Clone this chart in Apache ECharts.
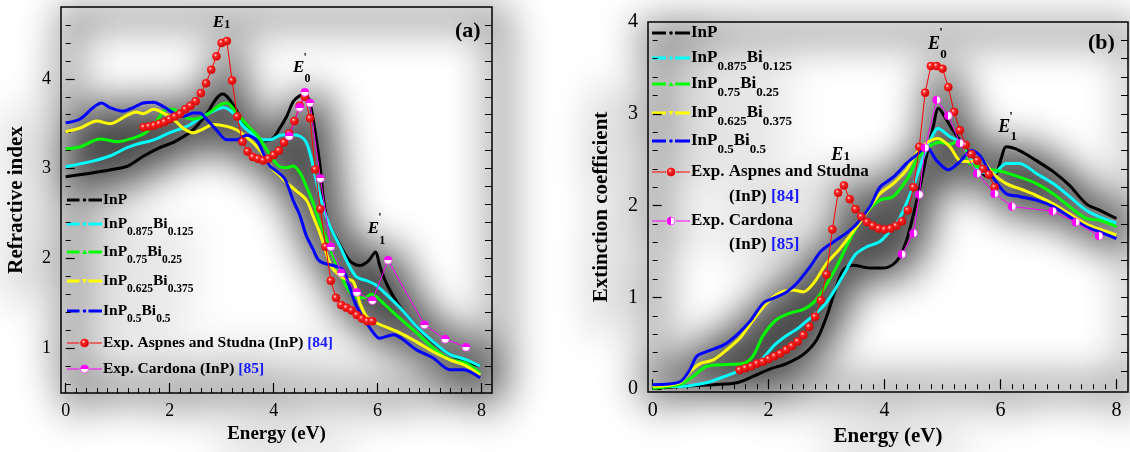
<!DOCTYPE html>
<html>
<head>
<meta charset="utf-8">
<script src="https://cdn.jsdelivr.net/npm/echarts@6/dist/echarts.min.js"></script>
<style>
  html, body { margin: 0; padding: 0; background: #ffffff; }
  #wrap { position: relative; width: 1130px; height: 452px; overflow: hidden; }
  #haze, #chart { position: absolute; left: 0; top: 0; width: 1130px; height: 452px; }
  /* soft grey drop-haze behind the drawing */
  #haze { filter: blur(20px); opacity: 0.72; transform: translate(7px, 10px); }
</style>
</head>
<body>
<div id="wrap">
  <div id="haze"></div>
  <div id="chart"></div>
</div>
<script>
const FONT = "'Liberation Serif','Times New Roman',Times,serif";

// ---------- (a) refractive index n(E) ----------
const refrInP = [[0,2.91],[0.5,2.95],[1.0,3.0],[1.2,3.03],[1.5,3.14],[1.8,3.23],[2.1,3.30],[2.45,3.43],[2.7,3.60],[2.9,3.78],[3.02,3.83],[3.15,3.77],[3.35,3.58],[3.55,3.41],[3.8,3.31],[3.97,3.33],[4.12,3.45],[4.25,3.58],[4.38,3.75],[4.5,3.81],[4.58,3.82],[4.68,3.77],[4.75,3.58],[4.83,3.29],[4.9,2.99],[4.96,2.65],[5.05,2.39],[5.2,2.23],[5.35,2.07],[5.47,1.97],[5.65,1.92],[5.82,1.97],[5.96,2.07],[6.04,1.92],[6.17,1.72],[6.43,1.46],[6.75,1.24],[7.07,1.06],[7.39,0.93],[7.71,0.85],[7.97,0.80]];
const refrBi0125 = [[0,3.02],[0.5,3.08],[0.85,3.14],[1.17,3.23],[1.36,3.27],[1.69,3.32],[2.0,3.40],[2.33,3.47],[2.58,3.56],[2.84,3.64],[3.03,3.68],[3.22,3.62],[3.42,3.47],[3.61,3.38],[3.8,3.32],[3.93,3.32],[4.12,3.37],[4.31,3.38],[4.51,3.36],[4.63,3.29],[4.73,3.10],[4.83,2.84],[4.95,2.58],[5.08,2.36],[5.28,2.13],[5.45,1.92],[5.6,1.79],[5.8,1.75],[5.95,1.71],[6.11,1.63],[6.43,1.45],[6.75,1.24],[7.07,1.07],[7.39,0.93],[7.71,0.87],[7.97,0.80]];
const refrBi025 = [[0,3.22],[0.27,3.24],[0.66,3.33],[0.98,3.30],[1.3,3.34],[1.56,3.41],[1.75,3.53],[1.94,3.66],[2.07,3.66],[2.26,3.58],[2.45,3.55],[2.71,3.60],[2.97,3.71],[3.1,3.73],[3.29,3.62],[3.48,3.49],[3.67,3.38],[3.87,3.21],[3.99,3.10],[4.12,3.02],[4.25,3.01],[4.38,3.03],[4.51,2.95],[4.63,2.80],[4.76,2.62],[4.89,2.39],[5.02,2.21],[5.15,2.02],[5.3,1.80],[5.45,1.64],[5.6,1.56],[5.75,1.56],[5.88,1.60],[6.0,1.56],[6.11,1.50],[6.43,1.33],[6.75,1.17],[7.07,1.00],[7.39,0.87],[7.58,0.85],[7.71,0.83],[7.97,0.72]];
const refrBi0375 = [[0,3.41],[0.27,3.45],[0.6,3.53],[0.85,3.50],[1.17,3.59],[1.36,3.63],[1.49,3.61],[1.69,3.66],[1.81,3.64],[2.07,3.55],[2.26,3.45],[2.45,3.40],[2.64,3.44],[2.84,3.49],[3.1,3.47],[3.29,3.43],[3.48,3.35],[3.67,3.25],[3.87,3.10],[3.99,2.99],[4.12,2.92],[4.25,2.84],[4.44,2.75],[4.63,2.65],[4.76,2.47],[4.89,2.28],[4.99,2.10],[5.1,1.92],[5.21,1.84],[5.34,1.78],[5.53,1.74],[5.66,1.50],[5.79,1.35],[5.98,1.28],[6.43,1.17],[6.75,1.07],[7.07,0.96],[7.39,0.87],[7.71,0.80],[7.97,0.70]];
const refrBi05 = [[0,3.51],[0.27,3.55],[0.53,3.68],[0.69,3.73],[0.85,3.68],[1.1,3.64],[1.3,3.68],[1.49,3.73],[1.69,3.74],[1.88,3.69],[2.07,3.62],[2.26,3.58],[2.45,3.62],[2.58,3.62],[2.71,3.55],[2.9,3.43],[3.1,3.32],[3.29,3.32],[3.48,3.37],[3.67,3.32],[3.8,3.17],[3.93,3.03],[4.08,2.96],[4.22,2.88],[4.38,2.64],[4.51,2.47],[4.63,2.25],[4.76,2.10],[4.85,1.99],[4.95,1.95],[5.21,1.91],[5.34,1.87],[5.6,1.46],[5.92,1.17],[6.04,1.11],[6.3,1.15],[6.75,0.98],[7.07,0.89],[7.39,0.76],[7.65,0.76],[7.97,0.67]];

// Aspnes and Studna, InP [84]
const aspnesEnergyA = [1.5,1.6,1.7,1.8,1.9,2.0,2.1,2.2,2.3,2.4,2.5,2.6,2.7,2.8,2.9,3.0,3.1,3.2,3.3,3.4,3.5,3.6,3.7,3.8,3.9,4.0,4.1,4.2,4.3,4.4,4.5,4.6,4.7,4.8,4.9,5.0,5.1,5.2,5.3,5.4,5.5,5.6,5.7,5.8,5.9];
const aspnesN = [3.46,3.47,3.48,3.50,3.52,3.55,3.58,3.61,3.66,3.70,3.75,3.84,3.95,4.10,4.25,4.40,4.42,3.98,3.58,3.30,3.19,3.13,3.11,3.09,3.11,3.15,3.20,3.29,3.39,3.53,3.70,3.80,3.56,2.99,2.55,2.13,1.75,1.56,1.48,1.45,1.42,1.37,1.33,1.30,1.30];
// Cardona, InP [85]
const cardonaEnergy = [4.3,4.5,4.6,4.7,4.9,5.1,5.3,5.6,5.9,6.2,6.9,7.3,7.7];
const cardonaN = [3.36,3.68,3.85,3.73,2.89,2.13,1.84,1.62,1.53,1.98,1.26,1.10,1.01];

// ---------- (b) extinction coefficient k(E) ----------
const extInP = [[0,0.01],[0.47,0.03],[1.05,0.05],[1.45,0.07],[1.73,0.14],[2.02,0.22],[2.31,0.28],[2.6,0.38],[2.83,0.54],[3.0,0.79],[3.17,1.12],[3.29,1.30],[3.46,1.35],[3.75,1.32],[3.98,1.32],[4.15,1.36],[4.26,1.44],[4.38,1.62],[4.49,1.88],[4.61,2.20],[4.72,2.53],[4.84,2.86],[4.93,3.06],[5.01,3.0],[5.13,2.87],[5.3,2.71],[5.47,2.55],[5.64,2.38],[5.82,2.31],[5.93,2.35],[6.02,2.53],[6.1,2.64],[6.33,2.60],[6.62,2.49],[6.91,2.37],[7.19,2.22],[7.48,2.02],[7.71,1.95],[8.0,1.86]];
const extBi0125 = [[0,0.03],[0.47,0.03],[0.93,0.07],[1.16,0.12],[1.45,0.19],[1.68,0.25],[1.9,0.34],[2.1,0.48],[2.3,0.58],[2.5,0.66],[2.71,0.77],[2.94,0.90],[3.11,1.05],[3.34,1.30],[3.5,1.47],[3.69,1.55],[3.92,1.61],[4.09,1.72],[4.25,1.85],[4.49,2.20],[4.67,2.53],[4.84,2.78],[4.92,2.84],[5.13,2.75],[5.3,2.69],[5.47,2.53],[5.64,2.38],[5.87,2.35],[6.1,2.46],[6.33,2.46],[6.62,2.35],[6.91,2.24],[7.19,2.10],[7.48,1.95],[7.77,1.86],[8.0,1.81]];
const extBi025 = [[0,0.01],[0.47,0.05],[0.7,0.14],[0.93,0.25],[1.28,0.27],[1.56,0.28],[1.73,0.36],[1.91,0.59],[2.14,0.76],[2.37,0.83],[2.6,0.87],[2.77,0.94],[2.94,1.08],[3.17,1.33],[3.4,1.63],[3.6,1.85],[3.75,1.97],[3.92,2.06],[4.15,2.10],[4.38,2.28],[4.55,2.49],[4.72,2.62],[4.95,2.69],[5.13,2.67],[5.3,2.71],[5.47,2.46],[5.64,2.42],[5.87,2.39],[6.04,2.37],[6.33,2.31],[6.62,2.24],[6.91,2.13],[7.19,1.99],[7.48,1.86],[7.71,1.84],[8.0,1.77]];
const extBi0375 = [[0,0.03],[0.47,0.07],[0.64,0.19],[0.82,0.28],[1.05,0.32],[1.28,0.43],[1.51,0.56],[1.74,0.76],[1.97,0.94],[2.19,1.05],[2.42,1.08],[2.6,1.06],[2.77,1.15],[3.0,1.37],[3.23,1.53],[3.52,1.77],[3.75,1.98],[3.92,2.13],[4.15,2.24],[4.38,2.39],[4.55,2.57],[4.72,2.68],[4.92,2.73],[5.13,2.64],[5.3,2.49],[5.47,2.48],[5.64,2.51],[5.87,2.35],[6.1,2.24],[6.39,2.17],[6.62,2.11],[6.91,2.02],[7.19,1.91],[7.48,1.80],[7.77,1.73],[8.0,1.68]];
const extBi05 = [[0,0.05],[0.47,0.08],[0.64,0.21],[0.76,0.36],[0.93,0.41],[1.22,0.48],[1.45,0.59],[1.68,0.74],[1.91,0.94],[2.08,0.99],[2.31,1.06],[2.48,1.15],[2.71,1.33],[2.9,1.50],[3.11,1.60],[3.34,1.70],[3.52,1.80],[3.75,1.99],[3.92,2.20],[4.15,2.31],[4.38,2.46],[4.55,2.55],[4.72,2.64],[4.9,2.49],[5.1,2.39],[5.3,2.48],[5.5,2.60],[5.64,2.55],[5.87,2.31],[6.1,2.13],[6.33,2.10],[6.62,2.06],[6.91,1.99],[7.19,1.88],[7.48,1.77],[7.77,1.70],[8.0,1.64]];

const aspnesEnergyB = [1.5,1.6,1.7,1.8,1.9,2.0,2.1,2.2,2.3,2.4,2.5,2.6,2.7,2.8,2.9,3.0,3.1,3.2,3.3,3.4,3.5,3.6,3.7,3.8,3.9,4.0,4.1,4.2,4.3,4.4,4.5,4.6,4.7,4.8,4.9,5.0,5.1,5.2,5.3,5.4,5.5,5.6,5.7,5.8,5.9];
const aspnesK = [0.21,0.23,0.25,0.28,0.30,0.33,0.36,0.39,0.43,0.47,0.52,0.59,0.68,0.79,0.97,1.25,1.74,2.14,2.22,2.07,1.96,1.88,1.82,1.78,1.75,1.74,1.75,1.78,1.83,1.95,2.20,2.64,3.23,3.52,3.52,3.49,3.29,3.02,2.82,2.66,2.56,2.49,2.40,2.34,2.20];
const cardonaK = [1.47,1.70,2.12,2.63,3.15,2.98,2.68,2.35,2.13,1.99,1.94,1.82,1.67];

// ---------- legend labels, colours, ticks ----------
const calcNames = ['InP', 'InP0.875Bi0.125', 'InP0.75Bi0.25', 'InP0.625Bi0.375', 'InP0.5Bi0.5'];
const calcRich = ['{m|InP}', '{m|InP}{s|0.875}{m|Bi}{s|0.125}', '{m|InP}{s|0.75}{m|Bi}{s|0.25}', '{m|InP}{s|0.625}{m|Bi}{s|0.375}', '{m|InP}{s|0.5}{m|Bi}{s|0.5}'];
const calcColors = ['#000000', '#00ffff', '#00ff00', '#ffff00', '#0000ff'];
const calcMarks = ['circle', 'circle', 'triangle', 'inverted', 'circle'];
const expNames = ['Exp. Aspnes and Studna (InP) [84]', 'Exp. Cardona (InP) [85]'];
const energyTicks = [0, 2, 4, 6, 8];
const nTicks = [1, 2, 3, 4];
const kTicks = [0, 1, 2, 3, 4];

function steps(from, to, step, skip) {
  const out = [];
  for (let v = from; v <= to + 1e-9; v += step) {
    const r = Math.round(v * 100) / 100;
    if (!skip || Math.abs(r - Math.round(r / skip) * skip) > 1e-6) out.push(r);
  }
  return out;
}
const pairs = (xs, ys) => xs.map((x, i) => [x, ys[i]]);

const redBall = {
  type: 'radial', x: 0.38, y: 0.35, r: 0.7,
  colorStops: [{ offset: 0, color: '#ffe6e6' }, { offset: 0.28, color: '#ff2a2a' }, { offset: 1, color: '#b80000' }]
};
const halfMagentaA = {
  type: 'linear', x: 0, y: 0, x2: 0, y2: 1,
  colorStops: [{ offset: 0, color: '#ff00ff' }, { offset: 0.5, color: '#ff00ff' }, { offset: 0.5, color: '#ffffff' }, { offset: 1, color: '#ffffff' }]
};
const halfMagentaB = {
  type: 'linear', x: 0, y: 0, x2: 1, y2: 0,
  colorStops: [{ offset: 0, color: '#ff00ff' }, { offset: 0.5, color: '#ff00ff' }, { offset: 0.5, color: '#ffffff' }, { offset: 1, color: '#ffffff' }]
};

const AX = [-0.09, 8.2], AY = [0.5, 4.8];
const BX = [-0.08, 8.2], BY = [-0.03, 4.0];

// builds the option; the haze variant draws the same marks thick and dark
function makeOption(haze) {
  const ink = haze ? '#000' : null;
  const calcSeries = (name, data, color, xi, yi) => ({
    type: 'line', name, data, xAxisIndex: xi, yAxisIndex: yi,
    smooth: 0.3, symbol: 'none', showSymbol: false, silent: true,
    lineStyle: { color: ink || color, width: haze ? 22 : 3 }, z: 3
  });
  const expSeries = (name, data, lineColor, fill, xi, yi) => ({
    type: 'line', name, data, xAxisIndex: xi, yAxisIndex: yi,
    symbol: 'circle', symbolSize: haze ? 20 : 8, showSymbol: true, silent: true,
    lineStyle: { color: ink || lineColor, width: haze ? 8 : 1 },
    itemStyle: { color: ink || fill, borderColor: ink || lineColor, borderWidth: 0.6 }, z: 5
  });
  const xMain = (grid, min, max, fontSize, nameSize, nameGap) => ({
    type: 'value', gridIndex: grid, min, max, position: 'bottom', offset: 0,
    axisLine: { show: false }, splitLine: { show: false },
    axisTick: { show: !haze, inside: true, length: 10, customValues: energyTicks, lineStyle: { color: '#000', width: 1.2 } },
    axisLabel: { customValues: energyTicks, fontFamily: FONT, fontSize: haze ? fontSize + 8 : fontSize, color: '#000', margin: 9, fontWeight: haze ? 'bold' : 'normal' },
    name: 'Energy (eV)', nameLocation: 'middle', nameGap,
    nameTextStyle: { fontFamily: FONT, fontWeight: 'bold', fontSize: haze ? nameSize + 6 : nameSize, color: '#000' }
  });
  const xMinor = (grid, min, max) => ({
    type: 'value', gridIndex: grid, min, max, position: 'bottom', offset: 0,
    axisLine: { show: false }, splitLine: { show: false }, axisLabel: { show: false },
    axisTick: { show: !haze, inside: true, length: 5, customValues: steps(0, 8, 0.2, 2), lineStyle: { color: '#000', width: 1 } }
  });
  const yMain = (grid, min, max, ticks, labels, fontSize, name, nameSize, nameGap) => ({
    type: 'value', gridIndex: grid, min, max, position: 'left', offset: 0,
    axisLine: { show: false }, splitLine: { show: false },
    axisTick: { show: !haze, inside: true, length: 9, customValues: ticks, lineStyle: { color: '#000', width: 1.2 } },
    axisLabel: { customValues: labels, fontFamily: FONT, fontSize: haze ? fontSize + 8 : fontSize, color: '#000', margin: 10, fontWeight: haze ? 'bold' : 'normal' },
    name, nameLocation: 'middle', nameGap, nameRotate: 90,
    nameTextStyle: { fontFamily: FONT, fontWeight: 'bold', fontSize: haze ? nameSize + 6 : nameSize, color: '#000' }
  });
  const yTicks = (grid, min, max, pos, values, len) => ({
    type: 'value', gridIndex: grid, min, max, position: pos, offset: 0,
    axisLine: { show: false }, splitLine: { show: false }, axisLabel: { show: false },
    axisTick: { show: !haze, inside: true, length: len, customValues: values, lineStyle: { color: '#000', width: 1 } }
  });
  const border = haze ? 14 : 1.5;
  return {
    animation: false,
    backgroundColor: 'rgba(0,0,0,0)',
    grid: [
      { left: 61, top: 7, width: 431, height: 386, show: true, borderColor: '#000', borderWidth: border, backgroundColor: 'rgba(0,0,0,0)' },
      { left: 648, top: 22, width: 480, height: 370, show: true, borderColor: '#000', borderWidth: border, backgroundColor: 'rgba(0,0,0,0)' }
    ],
    xAxis: [
      xMain(0, AX[0], AX[1], 18, 19, 30), xMinor(0, AX[0], AX[1]),
      xMain(1, BX[0], BX[1], 20, 21, 30), xMinor(1, BX[0], BX[1])
    ],
    yAxis: [
      yMain(0, AY[0], AY[1], nTicks, nTicks, 18, 'Refractive index', 21, 34),
      yTicks(0, AY[0], AY[1], 'left', steps(0.6, 4.6, 0.2, 1), 5),
      yTicks(0, AY[0], AY[1], 'right', steps(0.6, 4.6, 0.2), 7),
      yMain(1, BY[0], BY[1], [0, 1, 2, 3], kTicks, 20, 'Extinction coefficient', 21, 36),
      yTicks(1, BY[0], BY[1], 'left', steps(0.2, 3.8, 0.2, 1), 5),
      yTicks(1, BY[0], BY[1], 'right', steps(0.2, 3.8, 0.2), 7)
    ],
    series: [
      calcSeries(calcNames[0], refrInP, calcColors[0], 0, 0),
      calcSeries(calcNames[1], refrBi0125, calcColors[1], 0, 0),
      calcSeries(calcNames[2], refrBi025, calcColors[2], 0, 0),
      calcSeries(calcNames[3], refrBi0375, calcColors[3], 0, 0),
      calcSeries(calcNames[4], refrBi05, calcColors[4], 0, 0),
      expSeries(expNames[0], pairs(aspnesEnergyA, aspnesN), '#ff0000', redBall, 0, 0),
      expSeries(expNames[1], pairs(cardonaEnergy, cardonaN), '#ff00ff', halfMagentaA, 0, 0),

      calcSeries(calcNames[0], extInP, calcColors[0], 2, 3),
      calcSeries(calcNames[1], extBi0125, calcColors[1], 2, 3),
      calcSeries(calcNames[2], extBi025, calcColors[2], 2, 3),
      calcSeries(calcNames[3], extBi0375, calcColors[3], 2, 3),
      calcSeries(calcNames[4], extBi05, calcColors[4], 2, 3),
      expSeries(expNames[0], pairs(aspnesEnergyB, aspnesK), '#ff0000', redBall, 2, 3),
      expSeries(expNames[1], pairs(cardonaEnergy, cardonaK), '#ff00ff', halfMagentaB, 2, 3)
    ]
  };
}

const haze = echarts.init(document.getElementById('haze'), null, { renderer: 'canvas' });
haze.setOption(makeOption(true));
const chart = echarts.init(document.getElementById('chart'), null, { renderer: 'canvas' });
chart.setOption(makeOption(false));

// ---------- legends and peak labels ----------
function richStyles(size, sub, ink) {
  return {
    m: { fontFamily: FONT, fontWeight: 'bold', fontSize: size, lineHeight: size, fill: ink || '#000', color: ink || '#000', verticalAlign: 'top' },
    s: { fontFamily: FONT, fontWeight: 'bold', fontSize: sub, lineHeight: sub, fill: ink || '#000', color: ink || '#000', padding: [Math.round(size * 0.65), 0, 0, 0], verticalAlign: 'top' },
    r: { fontFamily: FONT, fontWeight: 'bold', fontSize: size, lineHeight: size, fill: ink || '#1a1aff', color: ink || '#1a1aff', verticalAlign: 'top' }
  };
}

function legendMark(kind, cx, cy, color) {
  if (kind === 'triangle') {
    return { type: 'polygon', shape: { points: [[cx, cy - 2.5], [cx - 2.5, cy + 2], [cx + 2.5, cy + 2]] }, style: { fill: color } };
  }
  if (kind === 'inverted') {
    return { type: 'polygon', shape: { points: [[cx, cy + 2.5], [cx - 2.5, cy - 2], [cx + 2.5, cy - 2]] }, style: { fill: color } };
  }
  return { type: 'circle', shape: { cx, cy, r: 1.8 }, style: { fill: color } };
}

function buildLegend(x0, x1, textX, rowsY, size, sub, expRows, ink) {
  const els = [];
  const mid = (x0 + x1) / 2;
  const rich = richStyles(size, sub, ink);
  const bar = ink ? 8 : 3;
  calcNames.forEach((name, i) => {
    const y = rowsY[i];
    const c = ink || calcColors[i];
    els.push({ type: 'rect', shape: { x: x0, y: y - bar / 2, width: mid - 5 - x0, height: bar }, style: { fill: c } });
    els.push({ type: 'rect', shape: { x: mid + 4, y: y - bar / 2, width: x1 - mid - 4, height: bar }, style: { fill: c } });
    els.push(legendMark(calcMarks[i], mid, y, c));
    els.push({ type: 'text', x: textX, y: y - size / 2, style: { text: calcRich[i], rich, font: 'bold ' + size + 'px ' + FONT, textVerticalAlign: 'top' } });
  });
  const expFill = [redBall, expRows.half];
  const expLine = ['#ff0000', '#ff00ff'];
  expRows.rows.forEach((row, j) => {
    const y = row.y;
    const lc = ink || expLine[j];
    els.push({ type: 'line', shape: { x1: x0, y1: y, x2: mid - 5, y2: y }, style: { stroke: lc, lineWidth: ink ? 4 : 1 } });
    els.push({ type: 'line', shape: { x1: mid + 5, y1: y, x2: x1, y2: y }, style: { stroke: lc, lineWidth: ink ? 4 : 1 } });
    els.push({ type: 'circle', shape: { cx: mid, cy: y, r: 4 }, style: { fill: ink || expFill[j], stroke: lc, lineWidth: 0.6 } });
    row.lines.forEach((ln) => {
      els.push({ type: 'text', x: ln.x, y: ln.y - size / 2, style: { text: ln.text, rich, font: 'bold ' + size + 'px ' + FONT, textVerticalAlign: 'top' } });
    });
  });
  return els;
}

function peakLabel(finder, at, sub, primed, size, subDrop) {
  const p = chart.convertToPixel(finder, at);
  const children = [
    { type: 'text', x: p[0], y: p[1], style: { text: 'E', font: 'italic bold ' + size + 'px ' + FONT, fill: '#000', textVerticalAlign: 'middle' } }
  ];
  if (primed) {
    children.push({ type: 'text', x: p[0] + size * 0.62, y: p[1] - size * 0.62, style: { text: "'", font: 'bold ' + Math.round(size * 0.7) + 'px ' + FONT, fill: '#000', textVerticalAlign: 'middle' } });
  }
  children.push({ type: 'text', x: p[0] + size * 0.68, y: p[1] + subDrop, style: { text: sub, font: 'bold ' + Math.round(size * 0.7) + 'px ' + FONT, fill: '#000', textVerticalAlign: 'middle' } });
  return { type: 'group', children };
}

const legendRowsA = {
  half: halfMagentaA,
  rows: [
    { y: 343, lines: [{ x: 103, y: 343, text: '{m|Exp. Aspnes and Studna (InP) }{r|[84]}' }] },
    { y: 369, lines: [{ x: 103, y: 369, text: '{m|Exp. Cardona (InP) }{r|[85]}' }] }
  ]
};
const legendRowsB = {
  half: halfMagentaB,
  rows: [
    { y: 172, lines: [{ x: 691, y: 172, text: '{m|Exp. Aspnes and Studna}' }, { x: 729, y: 197, text: '{m|(InP) }{r|[84]}' }] },
    { y: 221, lines: [{ x: 691, y: 221, text: '{m|Exp. Cardona}' }, { x: 729, y: 245, text: '{m|(InP) }{r|[85]}' }] }
  ]
};
const rowsYA = [200, 224, 252, 281, 311], rowsYB = [33, 58, 84, 113, 141];

// the legend casts the same soft haze as the rest of the drawing
haze.setOption({
  graphic: [
    ...buildLegend(67, 102, 103, rowsYA, 15.5, 11.5, legendRowsA, '#000'),
    ...buildLegend(652, 690, 691, rowsYB, 17, 13, legendRowsB, '#000')
  ]
});

const fa = { gridIndex: 0 }, fb = { gridIndex: 1 };
chart.setOption({
  graphic: [
    ...buildLegend(67, 102, 103, rowsYA, 15.5, 11.5, legendRowsA),
    ...buildLegend(652, 690, 691, rowsYB, 17, 13, legendRowsB),
    peakLabel(fa, [2.83, 4.63], '1', false, 17, 3),
    peakLabel(fa, [4.37, 4.12], '0', true, 17, 11),
    peakLabel(fa, [5.81, 2.33], '1', true, 17, 12),
    peakLabel(fb, [4.75, 3.76], '0', true, 18, 11),
    peakLabel(fb, [5.96, 2.85], '1', true, 18, 9),
    peakLabel(fb, [3.08, 2.55], '1', false, 18, 2),
    { type: 'text', x: 455, y: 31, style: { text: '(a)', font: 'bold 22px ' + FONT, fill: '#000', textVerticalAlign: 'middle' } },
    { type: 'text', x: 1088, y: 43, style: { text: '(b)', font: 'bold 22px ' + FONT, fill: '#000', textVerticalAlign: 'middle' } }
  ]
});
</script>
</body>
</html>
